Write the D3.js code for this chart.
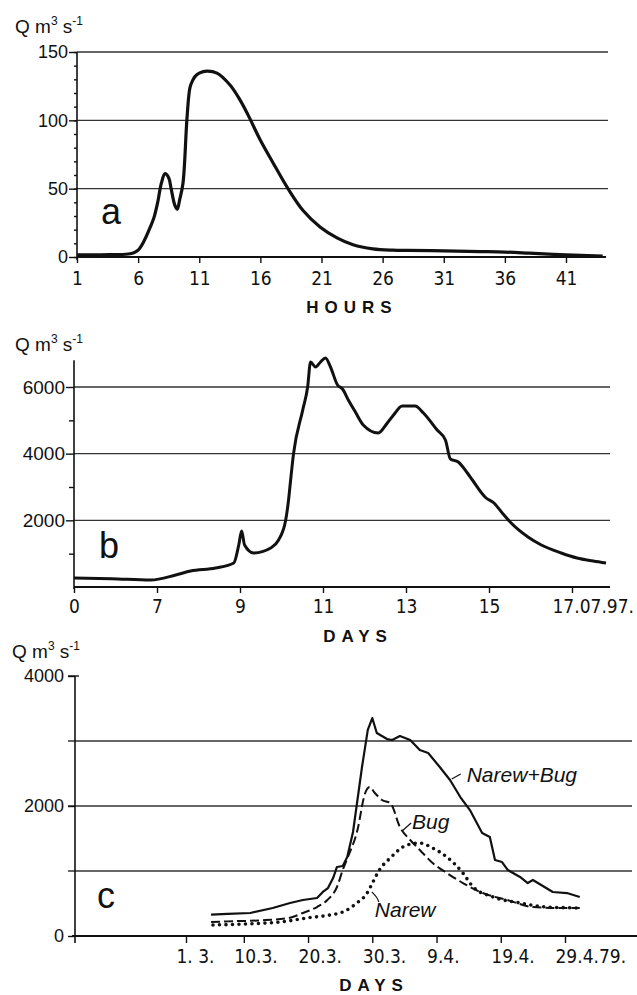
<!DOCTYPE html>
<html><head><meta charset="utf-8">
<script src="https://cdn.jsdelivr.net/npm/d3@7"></script>
<style>body{margin:0;background:#fff}svg{display:block}</style>
</head><body>
<script>
// ---------- DATA ----------
// Panel a: hourly discharge
const hoursA = [1,2,3,4,5,5.6,6,6.5,7,7.3,7.6,7.9,8.2,8.5,8.7,9.0,9.2,9.4,9.67,10.0,10.24,10.45,10.65,11.0,11.63,12.45,13.5,14.33,14.99,15.97,17.03,18.26,19.49,20.88,22.27,23.58,25.2,26.85,28,31,34,36,38,41,44];
const flowA  = [1.5,1.5,1.6,1.8,2,3,5,12,22,29,40,54,61,58,50,38,35,42,54,102,124,129,132,134.5,136,134.5,126,115,104,86,69,50,34,22,14,9,6,5,4.8,4.5,4,3.6,2.8,1.5,0.7];
const hourTicks = [1,6,11,16,21,26,31,36,41];
const yTicksA = [0,50,100,150];

// Panel b: daily discharge (July 1997)
const daysB = [5.0,5.9,6.85,7.45,7.81,8.41,8.85,8.97,9.04,9.11,9.33,9.74,9.93,10.10,10.17,10.22,10.29,10.51,10.63,10.70,10.82,10.94,11.06,11.18,11.35,11.47,11.61,11.78,11.97,12.33,12.55,12.70,12.91,13.22,13.42,13.75,13.95,14.07,14.26,14.48,14.60,14.93,15.12,15.32,15.51,15.94,16.26,16.74,17.12,17.51,17.82];
const flowB = [270,250,210,360,480,570,720,1260,1680,1260,1020,1170,1410,2000,2610,3210,4000,5300,6000,6750,6600,6750,6870,6600,6060,5940,5610,5250,4860,4620,4920,5160,5430,5430,5220,4710,4410,3840,3750,3420,3210,2670,2520,2220,1950,1500,1260,1020,870,780,720];
const dayTicksB = [5,7,9,11,13,15,17];
const dayLabelsB = ["0","7","9","11","13","15","17.07.97."];
const yTicksB = [2000,4000,6000];

// Panel c: days since 1 March 1979
const sumDays = [3.9,6.5,10.0,13.5,16.2,18.2,20.4,21.3,22.1,22.9,23.5,24.4,25.1,26.0,27.4,28.3,29.0,29.7,31.3,32.1,33.3,34.9,36.4,37.7,39.5,41.1,42.7,44.2,46.1,47.3,48.1,49.2,50.1,52.0,53.2,54.0,57.1,59.3,61.3];
const sumFlow = [330,340,354,430,507,554,585,677,738,892,1062,1077,1215,1600,2600,3170,3353,3123,3030,3015,3077,3015,2861,2815,2600,2400,2138,1938,1584,1523,1169,1138,1015,908,815,862,677,661,600];
const bugDays = [3.9,6.5,11.5,15.9,18.2,20.4,22.0,23.5,24.4,25.2,26.8,27.6,27.9,28.6,29.4,30.5,31.8,33.3,34.9,36.4,38.4,40.6,43.1,46.2,50.0,54.0,57.8,61.3];
const bugFlow = [215,225,240,275,354,446,554,754,1015,1215,1677,2092,2200,2292,2200,2092,2046,1677,1477,1323,1123,969,815,661,554,446,431,431];
const narewDays = [4.2,14.6,18.8,22.4,24.4,26.6,28.2,29.1,30.0,31.8,34.4,36.4,38.4,40.6,43.1,44.7,47.8,52.0,56.2,61.3];
const narewFlow = [170,215,277,323,369,507,661,830,1000,1200,1400,1430,1354,1215,969,754,600,508,446,431];
const dayTicksC = [0,9,19,29,39,49,59];
const dayLabelsC = ["1. 3.","10.3.","20.3.","30.3.","9.4.","19.4.","29.4.79."];
const yTicksC = [0,2000,4000];
const gridC = [1000,2000,3000];

// ---------- DRAW ----------
const W = 637, H = 995, ink = '#111';
const FONT = '"Liberation Sans", Arial, Helvetica, sans-serif';
const NARROW = '"Liberation Sans Narrow", "DejaVu Sans Condensed", "Liberation Sans", sans-serif';
const svg = d3.select('body').append('svg').attr('width', W).attr('height', H);
svg.append('rect').attr('width', W).attr('height', H).attr('fill', '#fff');

function qLabel(x, y) {
  const t = svg.append('text').attr('x', x).attr('y', y)
    .style('font-family', FONT).style('font-size', '19px').attr('fill', ink);
  t.append('tspan').text('Q m');
  t.append('tspan').attr('dy', -8).style('font-size', '12px').text('3');
  t.append('tspan').attr('dy', 8).text(' s');
  t.append('tspan').attr('dy', -8).style('font-size', '12px').text('-1');
}
function title(text, x, y) {
  svg.append('text').attr('x', x).attr('y', y).attr('text-anchor', 'middle')
    .style('font-family', FONT).style('font-size', '17px').style('font-weight', 'bold')
    .style('letter-spacing', '6px').attr('fill', ink).text(text);
}
function panelLetter(text, x, y) {
  svg.append('text').attr('x', x).attr('y', y).style('font-family', FONT)
    .style('font-size', '36px').attr('fill', ink).text(text);
}
function grid(vals, y, x0, x1) {
  svg.append('g').selectAll('line').data(vals).join('line')
    .attr('x1', x0).attr('x2', x1).attr('y1', d => y(d)).attr('y2', d => y(d))
    .attr('stroke', '#333').attr('stroke-width', 1.3);
}
function styleAxis(g, font, size) {
  g.select('.domain').remove();
  g.selectAll('line').attr('stroke', ink).attr('stroke-width', 1.4);
  g.selectAll('text').style('font-family', font).style('font-size', size).attr('fill', ink);
}
function hline(x0, x1, y, w) {
  svg.append('line').attr('x1', x0).attr('x2', x1).attr('y1', y).attr('y2', y).attr('stroke', ink).attr('stroke-width', w);
}
function vline(x, y0, y1, w) {
  svg.append('line').attr('x1', x).attr('x2', x).attr('y1', y0).attr('y2', y1).attr('stroke', ink).attr('stroke-width', w);
}

// ===== Panel a =====
const xA = d3.scaleLinear().domain([1, 41]).range([77, 566]);
const yA = d3.scaleLinear().domain([0, 150]).range([257, 52]);
qLabel(15, 33);
grid([50, 100, 150], yA, xA(1), 608);
vline(xA(1), yA(150), yA(0) + 3, 1.6);
hline(xA(1), 606, yA(0), 2);
svg.append('g').attr('transform', `translate(${xA(1)},0)`)
  .call(d3.axisLeft(yA).tickValues(d3.range(0, 151, 10)).tickSize(3).tickFormat(''))
  .call(g => styleAxis(g, FONT, '18px'));
svg.append('g').attr('transform', `translate(${xA(1)},0)`)
  .call(d3.axisLeft(yA).tickValues(yTicksA).tickSize(8).tickFormat(d3.format('d')))
  .call(g => { styleAxis(g, FONT, '18px'); g.selectAll('text').attr('x', -9); });
svg.append('g').attr('transform', `translate(0,${yA(0)})`)
  .call(d3.axisBottom(xA).tickValues(hourTicks).tickSize(6).tickFormat(d3.format('d')))
  .call(g => { styleAxis(g, NARROW, '19px'); g.selectAll('text').attr('y', 15); });
svg.append('path').datum(hoursA.map((h, i) => [h, flowA[i]]))
  .attr('d', d3.line().x(d => xA(d[0])).y(d => yA(d[1])).curve(d3.curveCatmullRom.alpha(0.5)))
  .attr('fill', 'none').attr('stroke', ink).attr('stroke-width', 3.2).attr('stroke-linejoin', 'round');
panelLetter('a', 101, 224);
title('HOURS', 352, 313);

// ===== Panel b =====
const xB = d3.scaleLinear().domain([5, 17]).range([74, 572]);
const yB = d3.scaleLinear().domain([0, 6000]).range([587, 387]);
qLabel(15, 351);
grid(yTicksB, yB, xB(5), 610);
vline(xB(5), yB(6800), yB(0) + 2, 1.6);
hline(xB(5), 610, yB(0), 2);
svg.append('g').attr('transform', `translate(${xB(5)},0)`)
  .call(d3.axisLeft(yB).tickValues([1000, 3000, 5000]).tickSize(5).tickFormat(''))
  .call(g => styleAxis(g, FONT, '18px'));
svg.append('g').attr('transform', `translate(${xB(5)},0)`)
  .call(d3.axisLeft(yB).tickValues(yTicksB).tickSize(8).tickFormat(d3.format('d')))
  .call(g => { styleAxis(g, FONT, '19px'); g.selectAll('text').attr('x', -9); });
svg.append('g').attr('transform', `translate(0,${yB(0)})`)
  .call(d3.axisBottom(xB).tickValues(dayTicksB).tickSize(6).tickFormat((d, i) => dayLabelsB[i]))
  .call(g => {
    styleAxis(g, NARROW, '19px');
    g.selectAll('text').attr('y', 13);
    g.selectAll('.tick').filter((d, i) => i === dayTicksB.length - 1).select('text')
      .attr('text-anchor', 'start').attr('dx', -20);
  });
svg.append('path').datum(daysB.map((d, i) => [d, flowB[i]]))
  .attr('d', d3.line().x(d => xB(d[0])).y(d => yB(d[1])).curve(d3.curveMonotoneX))
  .attr('fill', 'none').attr('stroke', ink).attr('stroke-width', 3).attr('stroke-linejoin', 'round');
panelLetter('b', 99, 558);
title('DAYS', 358, 642);

// ===== Panel c =====
const xC = d3.scaleLinear().domain([0, 59]).range([186, 565]);
const yC = d3.scaleLinear().domain([0, 4000]).range([936, 676]);
const axC = 75;
qLabel(12, 658);
grid(gridC, yC, axC - 7, 632);
vline(axC, yC(4000), yC(0) + 7, 1.6);
hline(axC - 3, 637, yC(0), 1.8);
hline(axC - 7, axC + 4, yC(4000), 1.4);
svg.append('g').attr('transform', `translate(${axC},0)`)
  .call(d3.axisLeft(yC).tickValues(yTicksC).tickSize(7).tickFormat(d3.format('d')))
  .call(g => { styleAxis(g, FONT, '18px'); g.selectAll('text').attr('x', -11); });
svg.append('g').attr('transform', `translate(0,${yC(0)})`)
  .call(d3.axisBottom(xC).tickValues(dayTicksC).tickSize(7).tickFormat((d, i) => dayLabelsC[i]))
  .call(g => {
    styleAxis(g, NARROW, '19px');
    g.selectAll('text').attr('y', 14).attr('text-anchor', 'start').attr('dx', -10);
  });
const lineC = d3.line().x(d => xC(d[0])).y(d => yC(d[1]));
svg.append('path').datum(sumDays.map((d, i) => [d, sumFlow[i]]))
  .attr('d', lineC).attr('fill', 'none').attr('stroke', ink).attr('stroke-width', 2.2).attr('stroke-linejoin', 'round');
svg.append('path').datum(bugDays.map((d, i) => [d, bugFlow[i]]))
  .attr('d', lineC.curve(d3.curveMonotoneX)).attr('fill', 'none').attr('stroke', ink)
  .attr('stroke-width', 2).attr('stroke-dasharray', '9,4');
svg.append('path').datum(narewDays.map((d, i) => [d, narewFlow[i]]))
  .attr('d', lineC.curve(d3.curveMonotoneX)).attr('fill', 'none').attr('stroke', ink)
  .attr('stroke-width', 3.6).attr('stroke-linecap', 'round').attr('stroke-dasharray', '0,6.5');

// annotations (positioned in data units)
const notes = [
  { text: 'Narew+Bug', day: 43.7, q: 2370, leader: [[-15, -3], [-6, -8]] },
  { text: 'Bug', day: 35.2, q: 1646, leader: [[-10, 2], [-1, -6]] },
  { text: 'Narew', day: 29.4, q: 292, leader: [[-3, -25], [2, -20], [4, -15]] }
];
notes.forEach(n => {
  const x = xC(n.day), y = yC(n.q);
  svg.append('text').attr('x', x).attr('y', y).style('font-family', FONT)
    .style('font-size', '21px').style('font-style', 'italic').attr('fill', ink).text(n.text);
  svg.append('path').attr('d', d3.line().curve(d3.curveBasis)(n.leader.map(p => [x + p[0], y + p[1]])))
    .attr('fill', 'none').attr('stroke', ink).attr('stroke-width', 1.2);
});
panelLetter('c', 97, 908);
title('DAYS', 374, 991);
</script>
</body></html>
